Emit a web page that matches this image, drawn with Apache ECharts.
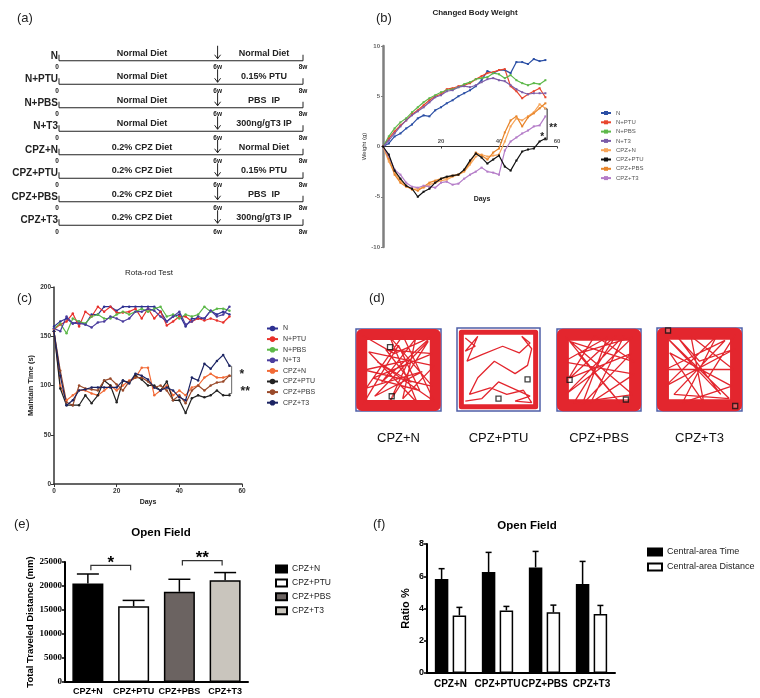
<!DOCTYPE html>
<html>
<head>
<meta charset="utf-8">
<script src="https://cdn.jsdelivr.net/npm/echarts@6/dist/echarts.min.js"></script>
<style>html,body{margin:0;padding:0;background:#fff}#main{width:760px;height:698px}</style>
</head>
<body>
<div id="main"></div>
<script>
const FONT = 'Liberation Sans, Arial, sans-serif';

// (a) study design
const groups = ['N', 'N+PTU', 'N+PBS', 'N+T3', 'CPZ+N', 'CPZ+PTU', 'CPZ+PBS', 'CPZ+T3'];
const phase1 = ['Normal Diet', 'Normal Diet', 'Normal Diet', 'Normal Diet',
  '0.2% CPZ Diet', '0.2% CPZ Diet', '0.2% CPZ Diet', '0.2% CPZ Diet'];
const phase2 = ['Normal Diet', '0.15% PTU', 'PBS  IP', '300ng/gT3 IP',
  'Normal Diet', '0.15% PTU', 'PBS  IP', '300ng/gT3 IP'];
const timeTicks = ['0', '6w', '8w'];

// (b) changed body weight, every 2nd day
const days = [0, 2, 4, 6, 8, 10, 12, 14, 16, 18, 20, 22, 24, 26, 28, 30, 32, 34, 36, 38, 40, 42, 44, 46, 48, 50, 52, 54, 56];
const wN     = [0, 0.3, 1.0, 1.3, 1.8, 2.2, 2.8, 3.1, 3.0, 3.6, 3.9, 4.3, 4.6, 5.0, 5.3, 5.6, 6.0, 6.6, 7.5, 7.3, 7.6, 7.6, 7.3, 8.4, 8.4, 8.2, 8.7, 8.5, 8.6];
const wNPTU  = [0, 0.8, 1.5, 2.1, 2.6, 3.2, 3.6, 4.1, 4.6, 5.0, 5.2, 5.7, 5.8, 6.0, 6.1, 6.3, 6.7, 7.0, 7.3, 7.4, 7.6, 7.7, 6.0, 5.5, 4.8, 5.2, 5.5, 5.8, 4.9];
const wNPBS  = [0, 1.0, 1.8, 2.4, 2.8, 3.4, 3.9, 4.4, 4.8, 5.1, 5.4, 5.6, 5.7, 5.9, 6.2, 6.4, 6.7, 6.8, 6.9, 7.3, 7.2, 6.8, 7.1, 6.6, 6.3, 6.1, 6.3, 6.2, 6.6];
const wNT3   = [0, 0.6, 1.3, 2.0, 2.6, 3.1, 3.5, 3.9, 4.4, 4.9, 5.1, 5.5, 5.6, 5.9, 6.0, 5.9, 6.1, 6.4, 6.7, 6.8, 6.6, 6.5, 6.1, 5.7, 5.4, 5.2, 5.3, 5.3, 5.3];
const wCN    = [0, -1.5, -2.6, -3.4, -3.9, -4.3, -4.2, -4.1, -3.8, -3.6, -3.4, -3.3, -3.0, -2.8, -2.5, -1.8, -1.0, -0.8, -1.0, -0.9, -0.8, 0.5, 2.0, 2.8, 2.6, 3.0, 3.4, 4.2, 3.8];
const wCPTU  = [0, -0.8, -2.4, -3.2, -3.9, -4.2, -5.0, -4.5, -4.2, -3.6, -3.2, -3.0, -2.9, -2.8, -2.3, -1.4, -0.7, -1.1, -1.7, -1.3, -0.9, -2.0, -2.4, -1.4, -0.5, -0.3, -0.2, 0.5, 0.8];
const wCPBS  = [0, -1.2, -2.8, -3.6, -4.0, -4.2, -4.4, -4.0, -3.6, -3.4, -3.2, -3.1, -2.9, -2.8, -2.4, -1.6, -0.6, -0.9, -1.3, -0.6, -0.2, 1.4, 2.6, 3.0, 2.0, 2.9, 3.3, 3.8, 4.3];
const wCT3   = [0, -1.0, -2.3, -2.8, -3.6, -4.0, -4.1, -3.9, -4.0, -4.1, -3.6, -3.5, -3.8, -3.7, -3.2, -2.8, -2.5, -2.1, -2.5, -2.6, -2.8, -0.4, 0.5, 0.9, 1.3, 1.6, 2.0, 2.1, 3.0];
const weightSets = [wN, wNPTU, wNPBS, wNT3, wCN, wCPTU, wCPBS, wCT3];
const weightColors = ['#2b4fa5', '#e8452d', '#5db84a', '#7b5ca8', '#f7a55a', '#111111', '#e8852a', '#b47cc8'];
const weightDayTicks = [20, 40, 60];

// (c) rota-rod, every 2nd day
const rN     = [160, 165, 168, 163, 165, 162, 172, 172, 180, 180, 176, 180, 180, 180, 180, 180, 180, 175, 165, 170, 172, 160, 168, 168, 168, 176, 172, 175, 172];
const rNPTU  = [157, 162, 165, 173, 160, 175, 170, 180, 175, 180, 174, 174, 175, 178, 168, 178, 168, 175, 161, 165, 170, 170, 165, 168, 166, 168, 166, 164, 170];
const rNPBS  = [158, 163, 153, 168, 165, 163, 170, 172, 168, 168, 172, 175, 172, 175, 178, 175, 178, 180, 170, 172, 168, 172, 170, 172, 180, 175, 178, 178, 176];
const rNT3   = [158, 155, 170, 163, 163, 162, 159, 164, 165, 170, 168, 165, 168, 175, 175, 178, 176, 170, 165, 170, 175, 162, 165, 170, 168, 176, 170, 172, 180];
const rCN    = [155, 100, 85, 90, 95, 95, 92, 90, 95, 100, 95, 100, 105, 108, 118, 118, 90, 95, 100, 90, 95, 90, 98, 100, 108, 112, 108, 108, 110];
const rCPTU  = [155, 97, 80, 80, 80, 90, 82, 90, 105, 100, 83, 105, 103, 110, 106, 100, 100, 95, 104, 85, 85, 72, 87, 90, 88, 90, 95, 90, 90];
const rCPBS  = [155, 115, 83, 80, 100, 97, 96, 95, 105, 107, 101, 95, 104, 108, 108, 104, 98, 100, 95, 85, 90, 82, 95, 100, 95, 100, 103, 104, 110];
const rCT3   = [155, 110, 80, 85, 95, 96, 98, 98, 98, 98, 98, 105, 102, 112, 110, 106, 98, 95, 98, 95, 88, 85, 108, 105, 122, 117, 125, 131, 120];
const rotaSets = [rN, rNPTU, rNPBS, rNT3, rCN, rCPTU, rCPBS, rCT3];
const rotaColors = ['#2e3192', '#e8302a', '#5cb848', '#4b3d9e', '#f26a36', '#222222', '#9a4a2a', '#1c2463'];

// (d) open-field tracks (0-100 arena units, y up)
const trackNames = ['CPZ+N', 'CPZ+PTU', 'CPZ+PBS', 'CPZ+T3'];
const trackBand = [11, 5, 12, 12];
const trackN = [[8, 92], [45, 70], [88, 90], [30, 35], [70, 88], [55, 15], [92, 55], [15, 72], [72, 10], [40, 90], [90, 30], [10, 50], [62, 62], [40, 12], [85, 85], [22, 18], [78, 48], [12, 28], [55, 92], [92, 12], [25, 60], [65, 35], [35, 75], [90, 70], [20, 40], [75, 25], [50, 80], [8, 8]];
const trackPTU = [[10, 88], [22, 78], [10, 72], [25, 90], [12, 60], [30, 68], [55, 78], [75, 70], [88, 82], [78, 90], [90, 75], [85, 55], [70, 45], [45, 60], [25, 40], [15, 20], [40, 28], [60, 20], [80, 25], [90, 10], [70, 12], [88, 18], [50, 35], [30, 15], [10, 12]];
const trackPBS = [[10, 90], [90, 20], [20, 10], [70, 92], [15, 40], [88, 70], [30, 8], [60, 90], [8, 60], [92, 45], [40, 10], [80, 92], [10, 20], [55, 55], [90, 90], [25, 70], [75, 10], [15, 85], [92, 60], [45, 92], [8, 30]];
const trackT3 = [[12, 88], [85, 15], [20, 20], [80, 85], [10, 50], [90, 50], [40, 90], [55, 10], [15, 70], [88, 30], [30, 10], [70, 90], [10, 30], [92, 75], [50, 60], [25, 88], [75, 20], [8, 92], [60, 40], [92, 92]];
const tracks = [trackN, trackPTU, trackPBS, trackT3];
const trackMarks = [[[40, 78], [42, 18]], [[50, 15], [85, 38]], [[82, 14], [15, 38]], [[92, 6], [13, 97]]];

// (e) open field, total distance
const eCats = ['CPZ+N', 'CPZ+PTU', 'CPZ+PBS', 'CPZ+T3'];
const distMean = [20500, 15800, 18800, 21200];
const distSem = [2000, 1200, 2600, 1600];
const eColors = ['#000000', '#ffffff', '#6b6361', '#c9c5bd'];
const eSig = [[0, 1, 24300], [2, 3, 25300]];
const eSigText = ['*', '**'];

// (f) open field, central-area ratios
const fCats = ['CPZ+N', 'CPZ+PTU', 'CPZ+PBS', 'CPZ+T3'];
const timeRatio = [5.83, 6.26, 6.55, 5.52];
const timeSem = [0.64, 1.22, 0.99, 1.4];
const distRatio = [3.57, 3.88, 3.76, 3.66];
const distRatioSem = [0.5, 0.25, 0.45, 0.53];

const chart = echarts.init(document.getElementById('main'));

function txt(x, y, s, size, align, va, weight, color) {
  return { type: 'text', style: { x: x, y: y, text: s, fontSize: size, fontFamily: FONT,
    fontWeight: weight || 'bold', fill: color || '#222', align: align, verticalAlign: va } };
}

function hiddenAxis(i, type, extra) {
  return Object.assign({ type: type, gridIndex: i, show: false }, extra || {});
}

const boxBorder = { show: true, borderColor: '#4f5fa8', borderWidth: 1.5 };
const grids = [
  { left: 59, top: 49, width: 244, height: 188 },          // a
  { left: 383, top: 46, width: 174, height: 201 },         // b
  { left: 54, top: 287, width: 188, height: 197 },         // c
  Object.assign({ left: 356, top: 329, width: 85, height: 82 }, boxBorder),
  Object.assign({ left: 457, top: 328, width: 83, height: 83 }, boxBorder),
  Object.assign({ left: 557, top: 329, width: 84, height: 82 }, boxBorder),
  Object.assign({ left: 657, top: 328, width: 85, height: 83 }, boxBorder),
  { left: 65, top: 562, width: 183, height: 120 },         // e
  { left: 427, top: 544, width: 188, height: 129 }         // f
];

const xAxes = [
  hiddenAxis(0, 'value', { min: 0, max: 100 }),
  { type: 'value', gridIndex: 1, min: 0, max: 60, interval: 20,
    axisLine: { show: true, onZero: true, lineStyle: { color: '#333', width: 1 } },
    axisTick: { show: true, length: 2, lineStyle: { color: '#333' } },
    axisLabel: { show: false }, splitLine: { show: false } },
  { type: 'value', gridIndex: 2, min: 0, max: 60, interval: 20,
    axisLine: { show: true, onZero: false, lineStyle: { color: '#333', width: 1.5 } },
    axisTick: { show: true, length: 3, lineStyle: { color: '#333' } },
    axisLabel: { fontSize: 6.5, fontWeight: 'bold', color: '#333', margin: 4 },
    splitLine: { show: false },
    name: 'Days', nameLocation: 'middle', nameGap: 15, nameTextStyle: { fontSize: 7, fontWeight: 'bold', color: '#222' } }
];
const yAxes = [
  hiddenAxis(0, 'category', { data: groups, inverse: true }),
  { type: 'value', gridIndex: 1, min: -10, max: 10, interval: 5,
    axisLine: { show: true, lineStyle: { color: '#7f7f7f', width: 2.5 } },
    axisTick: { show: true, length: 2, lineStyle: { color: '#7f7f7f' } },
    axisLabel: { fontSize: 6, fontWeight: 'bold', color: '#666', margin: 3 },
    splitLine: { show: false },
    name: 'Weight (g)', nameLocation: 'middle', nameGap: 14, nameTextStyle: { fontSize: 6, color: '#333' } },
  { type: 'value', gridIndex: 2, min: 0, max: 200, interval: 50,
    axisLine: { show: true, lineStyle: { color: '#333', width: 1.5 } },
    axisTick: { show: true, length: 3, lineStyle: { color: '#333' } },
    axisLabel: { fontSize: 6.5, fontWeight: 'bold', color: '#333', margin: 3 },
    splitLine: { show: false },
    name: 'Maintain Time (s)', nameLocation: 'middle', nameGap: 19, nameTextStyle: { fontSize: 7.5, fontWeight: 'bold', color: '#222' } }
];
trackNames.forEach((n, k) => {
  xAxes.push({ type: 'value', gridIndex: 3 + k, min: 0, max: 100,
    axisLine: { show: false }, axisTick: { show: false }, axisLabel: { show: false }, splitLine: { show: false },
    name: n, nameLocation: 'middle', nameGap: 21, nameTextStyle: { fontSize: 13, color: '#111' } });
  yAxes.push(hiddenAxis(3 + k, 'value', { min: 0, max: 100 }));
});
// e (7)
xAxes.push({ type: 'category', gridIndex: 7, data: eCats,
  axisLine: { show: true, lineStyle: { color: '#000', width: 2 } }, axisTick: { show: false },
  axisLabel: { fontSize: 9, fontWeight: 'bold', color: '#000', margin: 5, interval: 0 } });
yAxes.push({ type: 'value', gridIndex: 7, min: 0, max: 25000, interval: 5000,
  axisLine: { show: true, lineStyle: { color: '#000', width: 2 } },
  axisTick: { show: true, length: 3, lineStyle: { color: '#000', width: 1.5 } },
  axisLabel: { fontSize: 9, fontWeight: 'bold', fontFamily: 'Liberation Serif, serif', color: '#000', margin: 3,
    formatter: v => String(v) },
  splitLine: { show: false },
  name: 'Total Traveled Distance (mm)', nameLocation: 'middle', nameGap: 30,
  nameTextStyle: { fontSize: 9.5, fontWeight: 'bold', color: '#000' } });
// f (8)
xAxes.push({ type: 'category', gridIndex: 8, data: fCats,
  axisLine: { show: true, lineStyle: { color: '#000', width: 2 } }, axisTick: { show: false },
  axisLabel: { fontSize: 10, fontWeight: 'bold', color: '#000', margin: 6, interval: 0 } });
yAxes.push({ type: 'value', gridIndex: 8, min: 0, max: 8, interval: 2,
  axisLine: { show: true, lineStyle: { color: '#000', width: 2 } },
  axisTick: { show: true, length: 3, lineStyle: { color: '#000', width: 1.5 } },
  axisLabel: { fontSize: 9, fontWeight: 'bold', color: '#000', margin: 3 },
  splitLine: { show: false },
  name: 'Ratio %', nameLocation: 'middle', nameGap: 16,
  nameTextStyle: { fontSize: 11, fontWeight: 'bold', color: '#000' } });

const series = [];

// (a)
series.push({
  type: 'custom', xAxisIndex: 0, yAxisIndex: 0, silent: true,
  data: groups.map((g, i) => [0, i]),
  renderItem: function (params, api) {
    const i = params.dataIndex;
    const s = api.coord([0, i]), e = api.coord([100, i]), m = api.coord([65, i]);
    const t1 = api.coord([34, i]), t2 = api.coord([84, i]);
    const y = s[1];
    const ls = { stroke: '#222', lineWidth: 1 };
    return { type: 'group', children: [
      { type: 'line', shape: { x1: s[0], y1: y, x2: e[0], y2: y }, style: ls },
      { type: 'line', shape: { x1: s[0], y1: y - 6, x2: s[0], y2: y }, style: ls },
      { type: 'line', shape: { x1: e[0], y1: y - 6, x2: e[0], y2: y }, style: ls },
      { type: 'line', shape: { x1: m[0], y1: y - 15, x2: m[0], y2: y - 2 }, style: ls },
      { type: 'polyline', shape: { points: [[m[0] - 3, y - 6], [m[0], y - 2], [m[0] + 3, y - 6]] }, style: { stroke: '#222', lineWidth: 1, fill: null } },
      txt(s[0] - 1, y, groups[i], 10, 'right', 'bottom'),
      txt(t1[0], y - 3, phase1[i], 9, 'center', 'bottom'),
      txt(t2[0], y - 3, phase2[i], 9, 'center', 'bottom'),
      txt(s[0] - 2, y + 3, timeTicks[0], 6.5, 'center', 'top'),
      txt(m[0], y + 3, timeTicks[1], 6.5, 'center', 'top'),
      txt(e[0], y + 3, timeTicks[2], 6.5, 'center', 'top')
    ] };
  }
});

// (b)
groups.forEach((g, k) => {
  series.push({
    type: 'line', name: g, xAxisIndex: 1, yAxisIndex: 1,
    data: days.map((d, j) => [d, weightSets[k][j]]),
    symbol: 'rect', symbolSize: 2, showSymbol: true,
    lineStyle: { width: 1.2, color: weightColors[k] }, itemStyle: { color: weightColors[k] },
    z: k === 5 ? 5 : 3
  });
});
// day tick labels sit on the zero line, above it
series.push({
  type: 'custom', xAxisIndex: 1, yAxisIndex: 1, silent: true,
  data: weightDayTicks.map(d => [d, 0]),
  renderItem: function (params, api) {
    const p = api.coord([api.value(0), api.value(1)]);
    return txt(p[0], p[1] - 2, String(api.value(0)), 6, 'center', 'bottom', 'bold', '#555');
  }
});
series.push({
  type: 'custom', xAxisIndex: 1, yAxisIndex: 1, silent: true,
  data: [[56.6, 3.75, 0.67]],
  renderItem: function (params, api) {
    const a = api.coord([api.value(0), api.value(1)]), b = api.coord([api.value(0), api.value(2)]);
    const ls = { stroke: '#222', lineWidth: 1 };
    const s1 = api.coord([58.7, 2.2]), s2 = api.coord([54.9, 1.3]);
    return { type: 'group', children: [
      { type: 'line', shape: { x1: a[0], y1: a[1], x2: b[0], y2: b[1] }, style: ls },
      { type: 'line', shape: { x1: a[0] - 3, y1: a[1], x2: a[0], y2: a[1] }, style: ls },
      { type: 'line', shape: { x1: b[0] - 3, y1: b[1], x2: b[0], y2: b[1] }, style: ls },
      txt(s1[0], s1[1] + 4, '**', 10, 'center', 'middle', 'bold', '#222'),
      txt(s2[0], s2[1] + 4, '*', 10, 'center', 'middle', 'bold', '#222')
    ] };
  }
});

// (c)
groups.forEach((g, k) => {
  series.push({
    type: 'line', name: 'c:' + g, xAxisIndex: 2, yAxisIndex: 2,
    data: days.map((d, j) => [d, rotaSets[k][j]]),
    symbol: 'circle', symbolSize: 2.5, showSymbol: true,
    lineStyle: { width: 1.2, color: rotaColors[k] }, itemStyle: { color: rotaColors[k] }
  });
});
series.push({
  type: 'custom', xAxisIndex: 2, yAxisIndex: 2, silent: true,
  data: [[56.7, 119.5, 109.6, 91.8]],
  renderItem: function (params, api) {
    const x = api.value(0);
    const a = api.coord([x, api.value(1)]), m = api.coord([x, api.value(2)]), b = api.coord([x, api.value(3)]);
    const ls = { stroke: '#666', lineWidth: 1 };
    const s1 = api.coord([58.6, 114.7]), s2 = api.coord([58.9, 97.9]);
    return { type: 'group', children: [
      { type: 'line', shape: { x1: a[0], y1: a[1], x2: b[0], y2: b[1] }, style: ls },
      { type: 'line', shape: { x1: a[0] - 3, y1: a[1], x2: a[0], y2: a[1] }, style: ls },
      { type: 'line', shape: { x1: m[0] - 3, y1: m[1], x2: m[0], y2: m[1] }, style: ls },
      { type: 'line', shape: { x1: b[0] - 3, y1: b[1], x2: b[0], y2: b[1] }, style: ls },
      txt(s1[0] + 2, s1[1] + 4, '*', 12, 'left', 'middle', 'bold', '#222'),
      txt(s2[0] + 2, s2[1] + 4, '**', 12, 'left', 'middle', 'bold', '#222')
    ] };
  }
});

// (d)
tracks.forEach((tr, k) => {
  const inset = 4 + trackBand[k] / 4;
  series.push({
    type: 'line', name: 'band' + k, xAxisIndex: 3 + k, yAxisIndex: 3 + k, silent: true,
    data: [[50, inset], [100 - inset, inset], [100 - inset, 100 - inset], [inset, 100 - inset], [inset, inset], [55, inset]],
    symbol: 'none', lineStyle: { width: trackBand[k], color: '#e3262e', join: 'round', cap: 'round' }
  });
  series.push({
    type: 'line', name: 'track' + k, xAxisIndex: 3 + k, yAxisIndex: 3 + k, silent: true,
    data: tr, symbol: 'none', lineStyle: { width: 1.3, color: '#e3262e' }
  });
  series.push({
    type: 'scatter', name: 'mark' + k, xAxisIndex: 3 + k, yAxisIndex: 3 + k, silent: true,
    data: trackMarks[k], symbol: 'rect', symbolSize: 5,
    itemStyle: { color: 'rgba(255,255,255,0.3)', borderColor: '#111', borderWidth: 1.3 }, z: 5
  });
});

// (e)
eCats.forEach((c, i) => {
  series.push({
    type: 'bar', name: 'e:' + c, xAxisIndex: 7, yAxisIndex: 7,
    data: distMean.map((v, j) => (j === i ? v : '-')),
    barWidth: 31, barGap: '-100%',
    itemStyle: { color: eColors[i], borderColor: '#000', borderWidth: 1.5 }
  });
});
series.push({
  type: 'custom', xAxisIndex: 7, yAxisIndex: 7, silent: true,
  data: eCats.map((c, i) => [i, distMean[i], distMean[i] + distSem[i]]),
  renderItem: function (params, api) {
    const a = api.coord([api.value(0), api.value(1)]), b = api.coord([api.value(0), api.value(2)]);
    const ls = { stroke: '#000', lineWidth: 1.5 };
    return { type: 'group', children: [
      { type: 'line', shape: { x1: a[0], y1: a[1], x2: b[0], y2: b[1] }, style: ls },
      { type: 'line', shape: { x1: b[0] - 11, y1: b[1], x2: b[0] + 11, y2: b[1] }, style: ls }
    ] };
  }
});
series.push({
  type: 'custom', xAxisIndex: 7, yAxisIndex: 7, silent: true,
  data: eSig,
  renderItem: function (params, api) {
    const a = api.coord([api.value(0), api.value(2)]), b = api.coord([api.value(1), api.value(2)]);
    const ls = { stroke: '#333', lineWidth: 1.2 };
    return { type: 'group', children: [
      { type: 'polyline', shape: { points: [[a[0] + 3, a[1] + 5], [a[0] + 3, a[1]], [b[0] - 3, b[1]], [b[0] - 3, b[1] + 5]] }, style: Object.assign({ fill: null }, ls) },
      txt((a[0] + b[0]) / 2, a[1] + 6, eSigText[params.dataIndex], 17, 'center', 'bottom', 'bold', '#000')
    ] };
  }
});

// (f)
series.push({
  type: 'bar', name: 'Central-area Time', xAxisIndex: 8, yAxisIndex: 8, data: timeRatio,
  barWidth: 13.5, barGap: '32%', itemStyle: { color: '#000', borderColor: '#000', borderWidth: 1.5 }
});
series.push({
  type: 'bar', name: 'Central-area Distance', xAxisIndex: 8, yAxisIndex: 8, data: distRatio,
  barWidth: 13.5, barGap: '32%', itemStyle: { color: '#fff', borderColor: '#000', borderWidth: 1.5 }
});
[[timeRatio, timeSem, -8.9], [distRatio, distRatioSem, 8.9]].forEach(([mean, sem, off]) => {
  series.push({
    type: 'custom', xAxisIndex: 8, yAxisIndex: 8, silent: true,
    data: fCats.map((c, i) => [i, mean[i], mean[i] + sem[i]]),
    renderItem: function (params, api) {
      const a = api.coord([api.value(0), api.value(1)]), b = api.coord([api.value(0), api.value(2)]);
      const x = a[0] + off;
      const ls = { stroke: '#000', lineWidth: 1.5 };
      return { type: 'group', children: [
        { type: 'line', shape: { x1: x, y1: a[1], x2: x, y2: b[1] }, style: ls },
        { type: 'line', shape: { x1: x - 3, y1: b[1], x2: x + 3, y2: b[1] }, style: ls }
      ] };
    }
  });
});

const panelLabel = { fontSize: 13, fontWeight: 'normal', color: '#222', fontFamily: FONT };
chart.setOption({
  animation: false,
  textStyle: { fontFamily: FONT },
  title: [
    { text: '(a)', left: 12, top: 7, textStyle: panelLabel },
    { text: '(b)', left: 371, top: 7, textStyle: panelLabel },
    { text: '(c)', left: 12, top: 287, textStyle: panelLabel },
    { text: '(d)', left: 364, top: 287, textStyle: panelLabel },
    { text: '(e)', left: 9, top: 513, textStyle: panelLabel },
    { text: '(f)', left: 368, top: 513, textStyle: panelLabel },
    { text: 'Changed Body Weight', left: 470, top: 4, textAlign: 'center', textStyle: { fontSize: 8, fontWeight: 'bold', color: '#222' } },
    { text: 'Days', left: 477, top: 191, textAlign: 'center', textStyle: { fontSize: 7, fontWeight: 'bold', color: '#222' } },
    { text: 'Rota-rod Test', left: 144, top: 264, textAlign: 'center', textStyle: { fontSize: 8, fontWeight: 'normal', color: '#222' } },
    { text: 'Open Field', left: 156, top: 522, textAlign: 'center', textStyle: { fontSize: 11.5, fontWeight: 'bold', color: '#000' } },
    { text: 'Open Field', left: 522, top: 515, textAlign: 'center', textStyle: { fontSize: 11.5, fontWeight: 'bold', color: '#000' } }
  ],
  legend: [
    { data: groups, orient: 'vertical', left: 600, top: 110, padding: 0, itemWidth: 10, itemHeight: 5, itemGap: 3.3,
      textStyle: { fontSize: 6, color: '#555', lineHeight: 6 }, selectedMode: false },
    { data: groups.map(g => 'c:' + g), formatter: n => n.slice(2), orient: 'vertical', left: 266, top: 325, padding: 0,
      itemWidth: 11, itemHeight: 7, itemGap: 3.6, textStyle: { fontSize: 7, color: '#333', lineHeight: 7 }, selectedMode: false },
    { data: eCats.map(c => 'e:' + c), formatter: n => n.slice(2), orient: 'vertical', left: 275, top: 564.5, padding: 0,
      icon: 'rect', itemWidth: 11, itemHeight: 7, itemGap: 4.9, textStyle: { fontSize: 8.5, color: '#222', lineHeight: 9 }, selectedMode: false },
    { data: ['Central-area Time', 'Central-area Distance'], orient: 'vertical', left: 647, top: 547.5, padding: 0,
      icon: 'rect', itemWidth: 14, itemHeight: 7, itemGap: 6, textStyle: { fontSize: 9, color: '#222', lineHeight: 9 }, selectedMode: false }
  ],
  grid: grids,
  xAxis: xAxes,
  yAxis: yAxes,
  series: series
});
</script>
</body>
</html>
